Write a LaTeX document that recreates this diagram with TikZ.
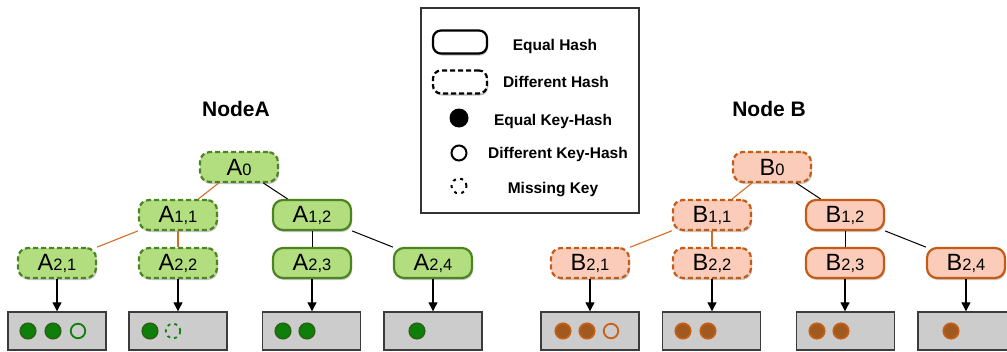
\documentclass[tikz,border=0pt]{standalone}
\usepackage{fontspec}
\setmainfont{Liberation Sans}
\usetikzlibrary{arrows.meta,shadows}
\definecolor{gfill}{RGB}{178,222,127}
\definecolor{gline}{RGB}{76,132,34}
\definecolor{ofill}{RGB}{252,204,186}
\definecolor{oline}{RGB}{196,92,24}
\definecolor{oedgecol}{RGB}{212,108,36}
\definecolor{boxfill}{RGB}{204,204,204}
\definecolor{boxline}{RGB}{60,60,60}
\definecolor{dgfill}{RGB}{14,128,10}
\definecolor{dgline}{RGB}{40,100,20}
\definecolor{dbfill}{RGB}{160,90,32}
\definecolor{dbline}{RGB}{200,96,22}
\newcommand{\nlab}[2]{{\fontsize{23.5}{23.5}\selectfont #1}{\fontsize{16.5}{16.5}\selectfont #2}}
\begin{document}
\begin{tikzpicture}[x=1pt,y=-1pt,
  tnode/.style={rectangle, rounded corners=10pt, minimum width=78pt, minimum height=30pt, inner sep=0pt, line width=2.2pt,
    drop shadow={shadow xshift=1pt,shadow yshift=-2pt,opacity=0.22,fill=black}},
  gA/.style={tnode, fill=gfill, draw=gline},
  oB/.style={tnode, fill=ofill, draw=oline},
  diffd/.style={dash pattern=on 5pt off 3pt},
  keybox/.style={rectangle, draw=boxline, fill=boxfill, line width=1.4pt, minimum width=98pt, minimum height=38pt, inner sep=0pt},
  gdot/.style={circle, fill=dgfill, draw=dgline, line width=1.6pt, minimum size=15.5pt, inner sep=0pt},
  gopen/.style={circle, draw=dgfill, line width=1.8pt, minimum size=14.5pt, inner sep=0pt},
  gmiss/.style={circle, draw=dgfill, line width=1.8pt, minimum size=14.5pt, inner sep=0pt, dash pattern=on 3pt off 4pt},
  bdot/.style={circle, fill=dbfill, draw=dbline, line width=1.6pt, minimum size=15.5pt, inner sep=0pt},
  bopen/.style={circle, draw=dbline, line width=1.8pt, minimum size=14.5pt, inner sep=0pt},
  arr/.style={-{Triangle[length=9pt,width=9pt]}, line width=1.2pt},
  oedge/.style={draw=oedgecol, line width=1.1pt},
  bedge/.style={draw=black, line width=1pt},
  ltext/.style={anchor=base, font=\bfseries\fontsize{15.5}{15.5}\selectfont},
  ttext/.style={anchor=base, font=\bfseries\fontsize{21}{21}\selectfont},
  lshape/.style={rectangle, rounded corners=8pt, minimum width=54pt, minimum height=23pt, inner sep=0pt, line width=2.2pt, draw=black, fill=white,
    drop shadow={shadow xshift=1pt,shadow yshift=-2pt,opacity=0.25,fill=black}}
]
\useasboundingbox (0,0) rectangle (1007,351);

% Legend
\node[rectangle, draw=black!80, line width=1.3pt, fill=white, minimum width=218pt, minimum height=205pt, inner sep=0pt] (legend) at (530,110.5) {};
\node[lshape] (leq) at (460,42) {};
\node[lshape, diffd] (ldiff) at (460,82) {};
\node[circle, fill=black, minimum size=19pt, inner sep=0pt] (lfill) at (459,118) {};
\node[circle, draw=black, line width=2pt, minimum size=15pt, inner sep=0pt] (lopen) at (459,153) {};
\node[circle, draw=black, line width=2pt, minimum size=15pt, inner sep=0pt, dash pattern=on 3pt off 4.5pt] (lmiss) at (459,186) {};
\node[ltext] (t1) at (555,50) {Equal Hash};
\node[ltext] (t2) at (556,87) {Different Hash};
\node[ltext] (t3) at (553,125) {Equal Key-Hash};
\node[ltext] (t4) at (558,158) {Different Key-Hash};
\node[ltext] (t5) at (553,193) {Missing Key};

% Titles
\node[ttext] (titA) at (236,116) {NodeA};
\node[ttext] (titB) at (769,116) {Node B};

% Tree A
\node[gA, diffd] (a0) at (239,167) {\nlab{A}{0}};
\node[gA, diffd] (a11) at (178,215) {\nlab{A}{1,1}};
\node[gA] (a12) at (312,215) {\nlab{A}{1,2}};
\node[gA, diffd] (a21) at (57,263) {\nlab{A}{2,1}};
\node[gA, diffd] (a22) at (178,263) {\nlab{A}{2,2}};
\node[gA] (a23) at (312,263) {\nlab{A}{2,3}};
\node[gA] (a24) at (433,263) {\nlab{A}{2,4}};

\draw[oedge] (a0) -- (a11);
\draw[bedge] (a0) -- (a12);
\draw[oedge] (a11) -- (a21);
\draw[oedge] (a11) -- (a22);
\draw[bedge] (a12) -- (a23);
\draw[bedge] (a12) -- (a24);

\node[keybox] (ka1) at (57,331) {};
\node[keybox] (ka2) at (178,331) {};
\node[keybox] (ka3) at (311.5,331) {};
\node[keybox] (ka4) at (433,331) {};
\draw[arr] (a21) -- (ka1);
\draw[arr] (a22) -- (ka2);
\draw[arr] (a23.south) -- (a23.south |- ka3.north);
\draw[arr] (a24) -- (ka4);

\node[gdot] (da11) at (28,331) {};
\node[gdot] (da12) at (53,331) {};
\node[gopen] (da13) at (78,331) {};
\node[gdot] (da21) at (150,331) {};
\node[gmiss] (da22) at (173,331) {};
\node[gdot] (da31) at (283,331) {};
\node[gdot] (da32) at (307,331) {};
\node[gdot] (da41) at (417,331) {};

% Tree B
\node[oB, diffd] (b0) at (772,167) {\nlab{B}{0}};
\node[oB, diffd] (b11) at (712,215) {\nlab{B}{1,1}};
\node[oB] (b12) at (845,215) {\nlab{B}{1,2}};
\node[oB, diffd] (b21) at (590,263) {\nlab{B}{2,1}};
\node[oB, diffd] (b22) at (712,263) {\nlab{B}{2,2}};
\node[oB] (b23) at (845,263) {\nlab{B}{2,3}};
\node[oB] (b24) at (966,263) {\nlab{B}{2,4}};

\draw[oedge] (b0) -- (b11);
\draw[bedge] (b0) -- (b12);
\draw[oedge] (b11) -- (b21);
\draw[oedge] (b11) -- (b22);
\draw[bedge] (b12) -- (b23);
\draw[bedge] (b12) -- (b24);

\node[keybox] (kb1) at (590,331) {};
\node[keybox] (kb2) at (711.5,331) {};
\node[keybox] (kb3) at (845.5,331) {};
\node[keybox] (kb4) at (967,331) {};
\draw[arr] (b21.south) -- (b21.south |- kb1.north);
\draw[arr] (b22.south) -- (b22.south |- kb2.north);
\draw[arr] (b23.south) -- (b23.south |- kb3.north);
\draw[arr] (b24.south) -- (b24.south |- kb4.north);

\node[bdot] (db11) at (563,331) {};
\node[bdot] (db12) at (587,331) {};
\node[bopen] (db13) at (611,331) {};
\node[bdot] (db21) at (683,331) {};
\node[bdot] (db22) at (708,331) {};
\node[bdot] (db31) at (817,331) {};
\node[bdot] (db32) at (841,331) {};
\node[bdot] (db41) at (951,331) {};
\end{tikzpicture}
\end{document}
